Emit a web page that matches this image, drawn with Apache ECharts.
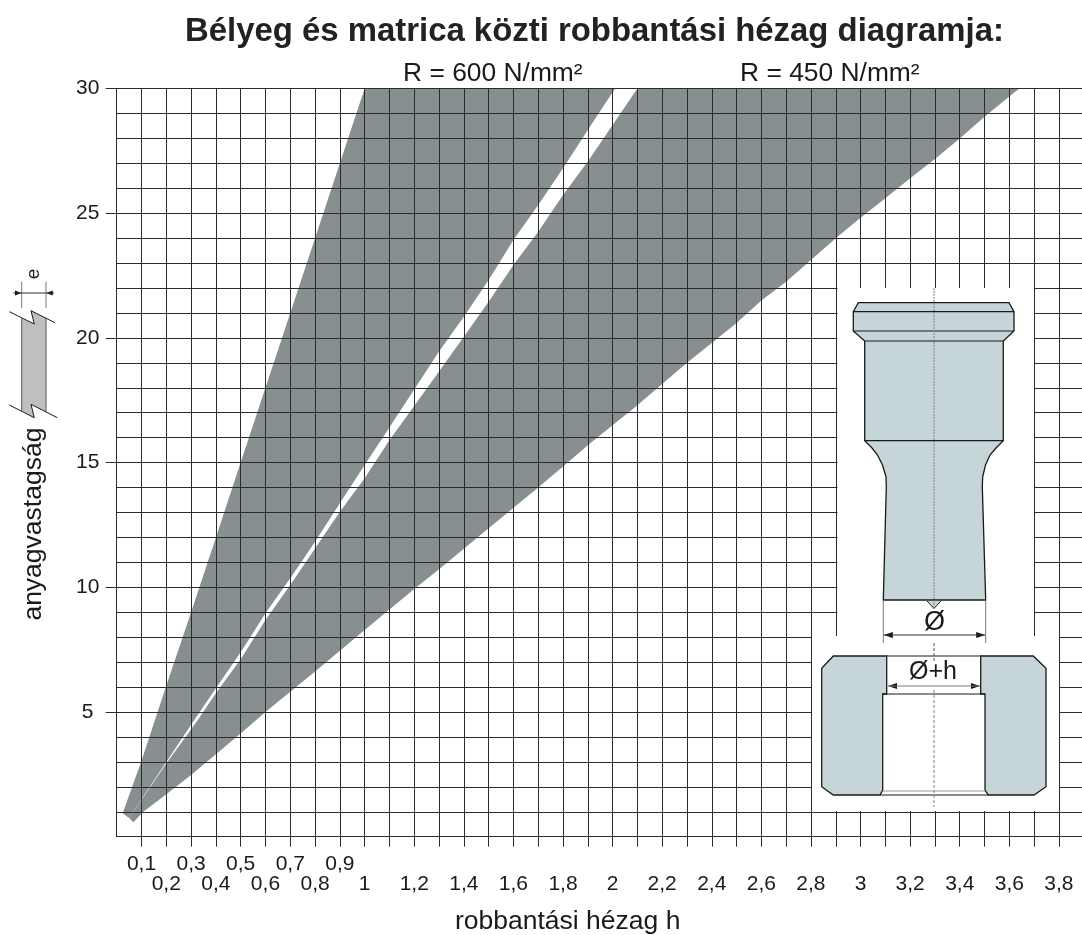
<!DOCTYPE html>
<html>
<head>
<meta charset="utf-8">
<title>Robbantási hézag</title>
<script src="https://cdn.jsdelivr.net/npm/echarts@6/dist/echarts.min.js"></script>
<style>
  html, body { margin: 0; padding: 0; background: #fff; overflow: hidden; }
  #chart { width: 1082px; height: 935px; }
</style>
</head>
<body>
<div id="chart"></div>
<script>
// tick labels
const xUpperLabels = [0.1, 0.3, 0.5, 0.7, 0.9];
const xLowerLabels = [0.2, 0.4, 0.6, 0.8, 1, 1.2, 1.4, 1.6, 1.8, 2, 2.2, 2.4, 2.6, 2.8, 3, 3.2, 3.4, 3.6, 3.8];
const xTicks = [0.1, 0.2, 0.3, 0.4, 0.5, 0.6, 0.7, 0.8, 0.9, 1, 1.1, 1.2, 1.3, 1.4, 1.5, 1.6, 1.7, 1.8, 1.9, 2, 2.1, 2.2, 2.3, 2.4, 2.5, 2.6, 2.7, 2.8, 2.9, 3, 3.1, 3.2, 3.3, 3.4, 3.5, 3.6, 3.7, 3.8];
const yLabels = [5, 10, 15, 20, 25, 30];

// band edges: [h, thickness]
const r600Left = [[0.024, 0.94], [0.1, 3.05], [0.2, 6.05], [0.3, 9], [0.4, 12], [0.5, 15], [0.6, 18], [0.7, 21], [0.8, 24], [0.9, 27], [1, 30]];
const r600Right = [[2.01, 30], [2, 29.85], [1.9, 28.34], [1.8, 26.8], [1.7, 25.33], [1.6, 23.93], [1.5, 22.32], [1.4, 20.85], [1.3, 19.45], [1.066, 15.9], [1, 14.9], [0.9, 13.37], [0.8, 11.83], [0.7, 10.36], [0.6, 8.96], [0.5, 7.4], [0.4, 5.95], [0.313, 4.68], [0.2, 3], [0.05, 0.75]];
const r450Left = [[0.05, 0.75], [0.2, 2.94], [0.327, 4.68], [0.4, 5.75], [0.5, 7.12], [0.6, 8.69], [0.7, 10.09], [0.8, 11.56], [0.9, 13.03], [1, 14.37], [1.1, 15.9], [1.3, 18.65], [1.4, 20.05], [1.5, 21.45], [1.6, 22.92], [1.7, 24.26], [1.8, 25.73], [1.9, 27.07], [2, 28.54], [2.1, 30]];
const r450Right = [[3.64, 30], [3.5, 28.87], [3.4, 28], [3.3, 27.17], [3.2, 26.4], [3.1, 25.6], [3, 24.82], [2.9, 24], [2.8, 23.12], [2.7, 22.25], [2.6, 21.5], [2.5, 20.6], [2.4, 19.8], [2.3, 19], [2.1, 17.3], [1.9, 15.7], [1.8, 14.84], [1.7, 14], [1.5, 12.37], [1.3, 10.72], [1.2, 9.93], [1, 8.29], [0.8, 6.62], [0.6, 5], [0.5, 4.14], [0.3, 2.47], [0.2, 1.7], [0.107, 1], [0.067, 0.58]];

const FONT = '"Liberation Sans", Arial, sans-serif';
const GRID_COLOR = '#2b2b2b';
const BAND_COLOR = '#878f90';
const STEEL = '#c5d5d8';
const INK = '#1a1a1a';

const myChart = echarts.init(document.getElementById('chart'), null, { renderer: 'canvas' });

function formatComma (v) {
  return String(v).replace('.', ',');
}

function bandRenderer (points) {
  return function (params, api) {
    return {
      type: 'polygon',
      shape: { points: points.map(function (p) { return api.coord(p); }) },
      style: { fill: BAND_COLOR }
    };
  };
}

// x axes share one position: grid, ticks + upper labels, lower labels
function makeXAxis (extra) {
  return Object.assign({
    type: 'value', min: 0, max: 3.9, interval: 0.1, position: 'bottom',
    axisLine: { show: false }, axisTick: { show: false },
    axisLabel: { show: false }, splitLine: { show: false }
  }, extra);
}

function makeYAxis (extra) {
  return Object.assign({
    type: 'value', min: 0, max: 30, interval: 1, position: 'left',
    axisLine: { show: false }, axisTick: { show: false },
    axisLabel: { show: false }, splitLine: { show: false }
  }, extra);
}

const gridLine = { show: true, lineStyle: { color: GRID_COLOR, width: 1 } };
const axisLine = { show: true, onZero: false, lineStyle: { color: GRID_COLOR, width: 1 } };
const tickLabel = { show: true, color: INK, fontFamily: FONT, fontSize: 21 };

// inset drawing helpers
function poly (points, fill, stroke, lineWidth) {
  return {
    type: 'polygon', z: 100, silent: true,
    shape: { points: points },
    style: { fill: fill, stroke: stroke || null, lineWidth: lineWidth === undefined ? 1 : lineWidth }
  };
}
function seg (x1, y1, x2, y2, color, width, dash) {
  return {
    type: 'line', z: 101, silent: true,
    shape: { x1: x1, y1: y1, x2: x2, y2: y2 },
    style: { stroke: color || '#1a1a1a', lineWidth: width || 1, lineDash: dash || null }
  };
}
function label (text, x, y, size, rotation) {
  return {
    type: 'text', z: 102, silent: true, x: x, y: y, rotation: rotation || 0,
    style: { text: text, fontSize: size, fontFamily: FONT, fill: INK, align: 'center', verticalAlign: 'middle' }
  };
}
function arrowLeft (tipX, y) {
  return poly([[tipX, y], [tipX + 9, y - 3], [tipX + 9, y + 3]], '#111');
}
function arrowRight (tipX, y) {
  return poly([[tipX, y], [tipX - 9, y - 3], [tipX - 9, y + 3]], '#111');
}

const graphics = [
  // white cut-out behind the tool drawing
  poly([[837.5, 288], [1034, 288], [1034, 636], [1059, 636], [1059, 811], [812, 811], [812, 636], [837.5, 636]], '#fff'),

  // punch
  poly([[858.3, 302.7], [1009, 302.7], [1014, 311.7], [1014, 331], [1003.3, 341], [1003.3, 440.7], [996, 448], [990, 455], [985.5, 465], [982.7, 476.7], [982.3, 486.7], [985.7, 600], [883.3, 600], [886.3, 486.7], [886, 476.7], [882.5, 465], [877.5, 455], [872, 448], [864.7, 440.7], [864.7, 341], [853.3, 331], [853.3, 311.7]], STEEL, INK, 1.3),
  seg(853.3, 311.7, 1014, 311.7, INK, 1.2),
  seg(853.3, 331, 1014, 331, INK, 1.2),
  seg(864.7, 341, 1003.3, 341, INK, 1.2),
  seg(864.7, 440.7, 1003.3, 440.7, INK, 1.2),
  poly([[927, 601], [941, 601], [934, 608.5]], STEEL),
  seg(927, 601, 934, 608.5, INK, 1),
  seg(941, 601, 934, 608.5, INK, 1),

  // die
  poly([[833.3, 656], [886.7, 656], [886.7, 694], [882.7, 694], [882.7, 790], [880, 795], [833.3, 795], [821.7, 786.7], [821.7, 668.3]], STEEL, INK, 1.3),
  poly([[980.7, 656], [1033.3, 656], [1046, 668.3], [1046, 786.7], [1034, 795], [988.3, 795], [985, 790], [985, 694], [980.7, 694]], STEEL, INK, 1.3),
  seg(886.7, 656, 980.7, 656, INK, 1.2),
  seg(882.7, 694, 985, 694, INK, 1.2),
  seg(880, 795, 988.3, 795, INK, 1.2),
  seg(882.7, 791, 985, 791, '#999', 1.2),

  // centre line
  seg(934, 288, 934, 608, '#808080', 1, [2, 1]),
  seg(934, 643, 934, 661, '#555', 1, [3, 2]),
  seg(934, 690, 934, 807, '#808080', 1, [3, 2]),

  // dimension marks
  seg(883.3, 600, 883.3, 643, '#777', 1),
  seg(985.7, 600, 985.7, 643, '#777', 1),
  seg(884, 635, 985, 635, '#333', 1),
  arrowLeft(883.8, 635),
  arrowRight(985.2, 635),
  label('Ø', 934.5, 623, 27),
  seg(888, 686, 980, 686, '#777', 1),
  arrowLeft(888, 686),
  arrowRight(980, 686),
  label('Ø+h', 933, 672.5, 25),

  // sheet thickness sketch beside the y axis
  poly([[21.7, 318.3], [34.3, 324], [31, 310.7], [46, 318.3], [46, 411.7], [31, 404.3], [34.3, 417.7], [21.7, 411]], '#bfbfbf'),
  seg(21.7, 318.3, 21.7, 411, '#555', 1),
  seg(46, 318.3, 46, 411.7, '#555', 1),
  seg(9.3, 311.7, 34.3, 324, INK, 1),
  seg(34.3, 324, 31, 310.7, INK, 1),
  seg(31, 310.7, 55, 322.7, INK, 1),
  seg(9.3, 405, 34.3, 417.7, INK, 1),
  seg(34.3, 417.7, 31, 404.3, INK, 1),
  seg(31, 404.3, 57.3, 417.7, INK, 1),
  seg(21.7, 281.7, 21.7, 308, '#777', 1),
  seg(46, 281.7, 46, 308, '#777', 1),
  seg(13.3, 293, 54, 293, '#333', 1),
  poly([[21.5, 293], [15, 290.5], [15, 295.5]], '#111'),
  poly([[46.2, 293], [52.7, 290.5], [52.7, 295.5]], '#111'),
  label('e', 34, 274, 19, Math.PI / 2)
];

const option = {
  animation: false,
  backgroundColor: '#fff',
  title: [
    { text: 'Bélyeg és matrica közti robbantási hézag diagramja:', left: 180, top: 10.5, textStyle: { fontFamily: FONT, fontWeight: 'bold', fontSize: 32.9, color: '#222' } },
    { text: 'R = 600 N/mm²', left: 398, top: 56, textStyle: { fontFamily: FONT, fontWeight: 'normal', fontSize: 26.4, color: INK } },
    { text: 'R = 450 N/mm²', left: 735, top: 56, textStyle: { fontFamily: FONT, fontWeight: 'normal', fontSize: 26.4, color: INK } }
  ],
  grid: { left: 116.7, top: 88.5, width: 967, height: 748.2, containLabel: false, outerBoundsMode: 'none' },
  xAxis: [
    makeXAxis({ z: 5, axisLine: axisLine, splitLine: gridLine,
      name: 'robbantási hézag h', nameLocation: 'middle', nameGap: 71,
      nameTextStyle: { fontFamily: FONT, fontSize: 26.5, color: INK, padding: [0, 65, 0, 0] } }),
    makeXAxis({ axisTick: { show: true, length: 10, customValues: xTicks, lineStyle: { color: GRID_COLOR } },
      axisLabel: Object.assign({}, tickLabel, { margin: 17, customValues: xUpperLabels, formatter: formatComma }) }),
    makeXAxis({ axisLabel: Object.assign({}, tickLabel, { margin: 37, customValues: xLowerLabels, formatter: formatComma }) })
  ],
  yAxis: [
    makeYAxis({ z: 5, axisLine: axisLine, splitLine: gridLine,
      name: 'anyagvastagság', nameLocation: 'middle', nameGap: 69.5,
      nameTextStyle: { fontFamily: FONT, fontSize: 26.5, color: INK, padding: [0, 123, 0, 0] } }),
    makeYAxis({ axisTick: { show: true, length: 11, customValues: yLabels, lineStyle: { color: GRID_COLOR } },
      axisLabel: Object.assign({}, tickLabel, { margin: 29, align: 'center', customValues: yLabels }) })
  ],
  series: [
    { name: 'R = 600 N/mm²', type: 'custom', z: 1, silent: true, clip: false, coordinateSystem: 'cartesian2d', renderItem: bandRenderer(r600Left.concat(r600Right)), data: [0] },
    { name: 'R = 450 N/mm²', type: 'custom', z: 1, silent: true, clip: false, coordinateSystem: 'cartesian2d', renderItem: bandRenderer(r450Left.concat(r450Right)), data: [0] }
  ],
  graphic: graphics
};

myChart.setOption(option);
</script>
</body>
</html>
